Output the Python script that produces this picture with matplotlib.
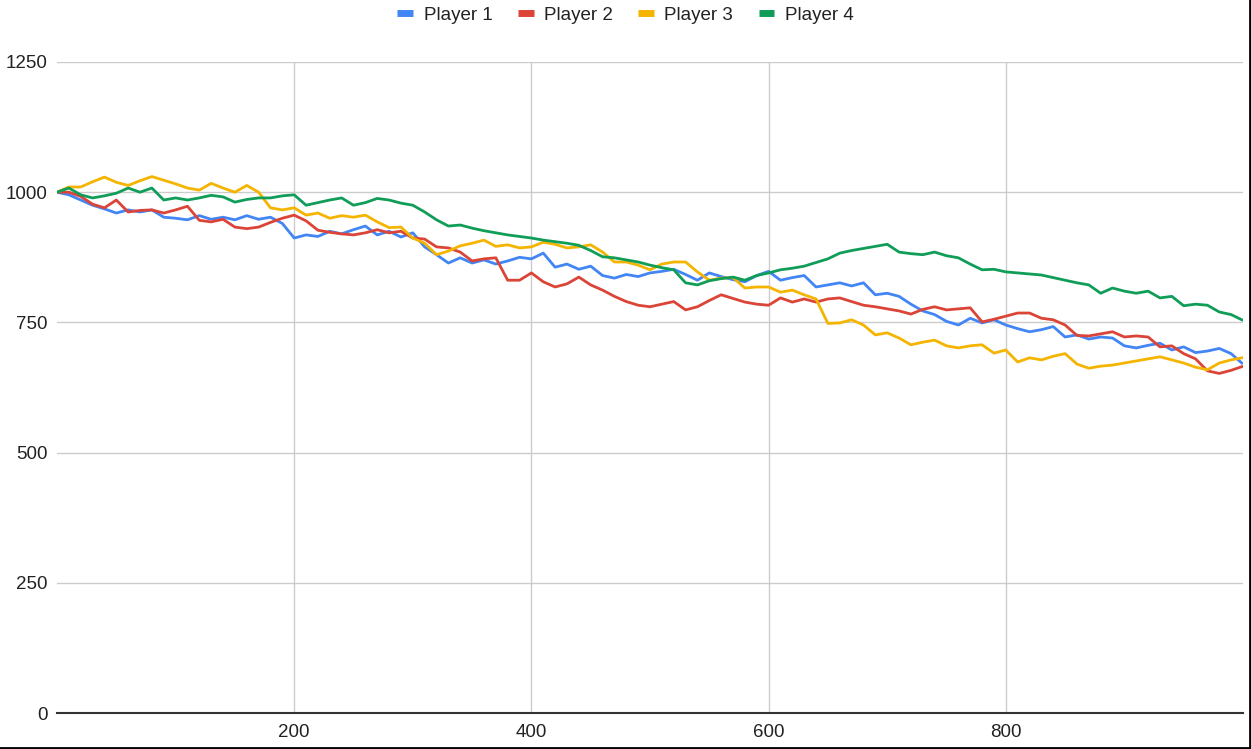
import matplotlib.pyplot as plt
from matplotlib.lines import Line2D

# x positions (step 10, last point at 999)
x = list(range(0, 1000, 10)) + [999]

player1 = [1000, 995, 985, 975, 968, 960, 966, 962, 966, 952,
           950, 947, 955, 948, 952, 947, 955, 948, 952, 940,
           912, 918, 915, 925, 920, 928, 935, 918, 925, 914,
           922, 895, 880, 864, 874, 864, 870, 862, 868, 875,
           872, 883, 856, 862, 852, 858, 840, 835, 842, 838,
           845, 848, 852, 842, 831, 845, 838, 832, 828, 840,
           848, 831, 836, 840, 818, 822, 826, 820, 826, 803,
           806, 800, 785, 772, 765, 752, 745, 758, 749, 755,
           745, 738, 732, 736, 742, 722, 726, 718, 722, 720,
           705, 701, 706, 710, 697, 703, 692, 695, 700, 690, 672]

player2 = [1000, 1000, 992, 977, 970, 985, 962, 965, 966, 960,
           966, 973, 946, 943, 948, 933, 930, 933, 942, 950,
           956, 945, 927, 923, 920, 918, 922, 928, 922, 925,
           912, 910, 895, 893, 885, 868, 872, 874, 831, 831,
           845, 828, 818, 824, 837, 822, 812, 800, 790, 783,
           780, 785, 790, 774, 780, 792, 803, 796, 789, 785,
           783, 797, 789, 795, 789, 795, 797, 790, 783, 780,
           776, 772, 766, 775, 780, 774, 776, 778, 751, 756,
           762, 768, 768, 758, 755, 745, 725, 724, 728, 732,
           722, 724, 722, 703, 705, 690, 680, 657, 652, 658, 665]

player3 = [1000, 1010, 1010, 1020, 1029, 1019, 1013, 1022, 1030, 1023,
           1016, 1008, 1004, 1017, 1008, 1000, 1013, 1000, 970, 966,
           970, 956, 960, 950, 955, 952, 956, 943, 932, 933,
           912, 902, 880, 887, 897, 902, 908, 896, 899, 893,
           895, 904, 900, 893, 895, 899, 885, 866, 866, 860,
           851, 862, 866, 866, 847, 831, 835, 836, 816, 818,
           818, 808, 812, 803, 795, 748, 749, 755, 745, 726,
           730, 720, 707, 712, 716, 705, 701, 705, 707, 691,
           697, 674, 682, 678, 685, 690, 670, 662, 666, 668,
           672, 676, 680, 684, 678, 672, 664, 659, 672, 678, 682]

player4 = [1000, 1008, 995, 989, 993, 998, 1008, 1000, 1008, 985,
           989, 985, 989, 994, 991, 981, 986, 989, 989, 993,
           995, 975, 980, 985, 989, 975, 980, 988, 985, 979,
           975, 962, 947, 935, 937, 931, 926, 922, 918, 915,
           912, 908, 905, 902, 898, 888, 876, 874, 870, 866,
           860, 855, 851, 826, 822, 830, 834, 837, 831, 840,
           845, 851, 854, 858, 865, 872, 883, 888, 892, 896,
           900, 885, 882, 880, 885, 878, 874, 862, 851, 852,
           847, 845, 843, 841, 836, 831, 826, 822, 806, 816,
           810, 806, 810, 797, 800, 782, 785, 783, 770, 765, 755]

names = ['Player 1', 'Player 2', 'Player 3', 'Player 4']
colors = ['#4285F4', '#DB4437', '#F4B400', '#0F9D58']
series = [player1, player2, player3, player4]

plt.rcParams['font.family'] = ['Liberation Sans', 'DejaVu Sans']

fig = plt.figure(figsize=(12.51, 7.49), dpi=100)
ax = fig.add_axes([57 / 1251, 1 - 713 / 749, (1243 - 57) / 1251, (713 - 62) / 749])

for s, c in zip(series, colors):
    ax.plot(x, s, color=c, linewidth=2.0)

ax.set_xlim(0, 1000)
ax.set_ylim(0, 1250)
ax.set_yticks([0, 250, 500, 750, 1000, 1250])
ax.set_xticks([200, 400, 600, 800])
ax.grid(True, color='#cccccc', linewidth=1)
ax.set_axisbelow(True)
for sp in ['top', 'right', 'left']:
    ax.spines[sp].set_visible(False)
ax.spines['bottom'].set_color('#333333')
ax.spines['bottom'].set_linewidth(1.5)
ax.tick_params(length=0, labelsize=13.5, colors='#222222', pad=6.5)
ax.tick_params(axis='x', pad=8)

handles = [Line2D([0], [0], color=c, linewidth=5, solid_capstyle='butt') for c in colors]
fig.legend(handles, names, loc='center', bbox_to_anchor=(0.5, 1 - 15 / 749), ncol=4,
           frameon=False, fontsize=13.5, handlelength=0.85, handletextpad=0.55,
           columnspacing=1.35, labelcolor='#222222')

# image border at right and bottom
fig.add_artist(Line2D([0, 1], [0.0015, 0.0015], color='black', linewidth=2, transform=fig.transFigure))
fig.add_artist(Line2D([0.999, 0.999], [0, 1], color='black', linewidth=2, transform=fig.transFigure))

fig.savefig('out.png', dpi=100, facecolor='white')
